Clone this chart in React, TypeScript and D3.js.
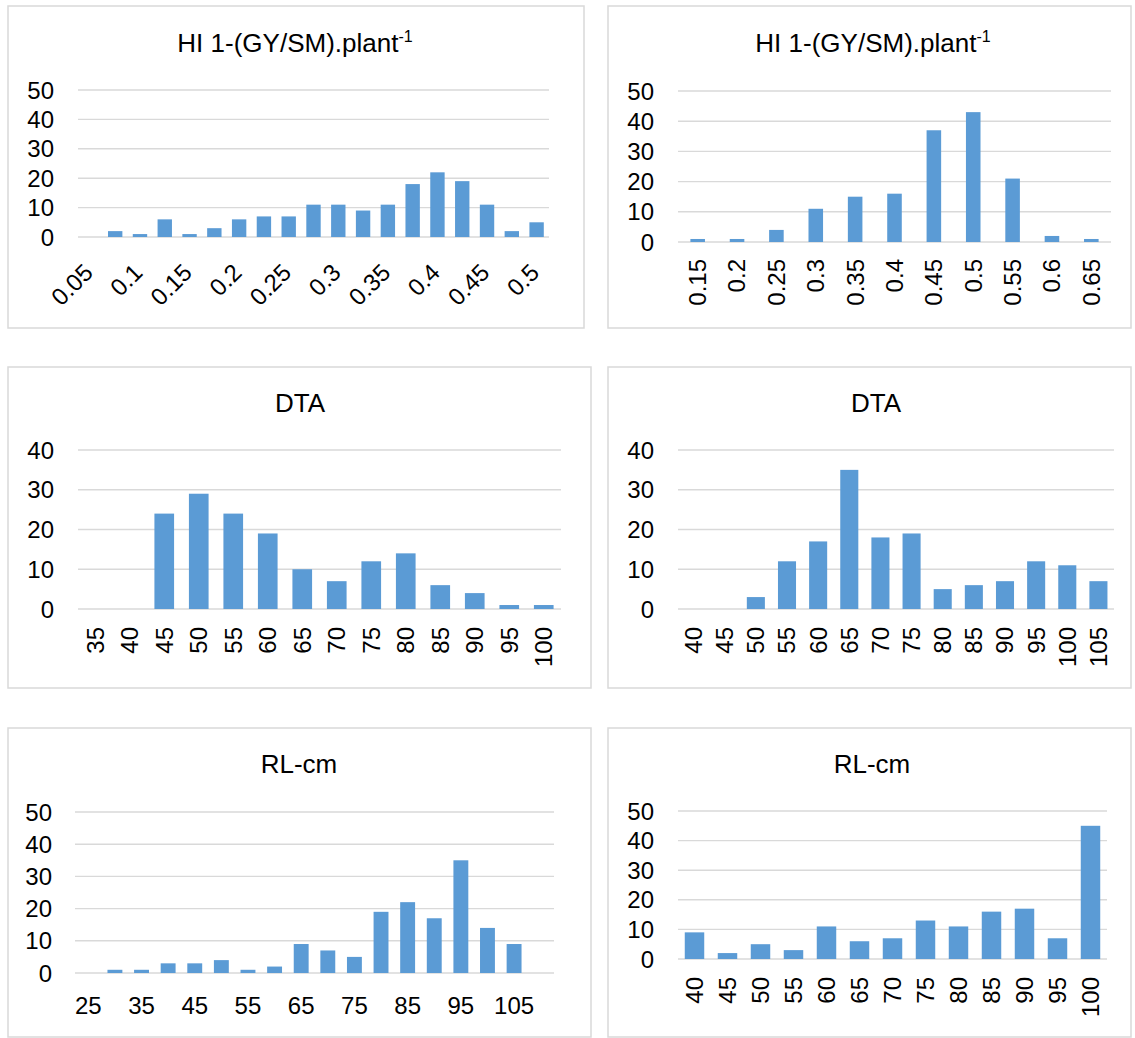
import React from 'react';
import * as d3 from 'd3';

// ---------- data ----------
const hiLeftCategories = ["0.05", "0.075", "0.1", "0.125", "0.15", "0.175", "0.2", "0.225", "0.25", "0.275", "0.3", "0.325", "0.35", "0.375", "0.4", "0.425", "0.45", "0.475", "0.5"];
const hiLeftValues = [0, 2, 1, 6, 1, 3, 6, 7, 7, 11, 11, 9, 11, 18, 22, 19, 11, 2, 5];

const hiRightCategories = ["0.15", "0.2", "0.25", "0.3", "0.35", "0.4", "0.45", "0.5", "0.55", "0.6", "0.65"];
const hiRightValues = [1, 1, 4, 11, 15, 16, 37, 43, 21, 2, 1];

const dtaLeftCategories = ["35", "40", "45", "50", "55", "60", "65", "70", "75", "80", "85", "90", "95", "100"];
const dtaLeftValues = [0, 0, 24, 29, 24, 19, 10, 7, 12, 14, 6, 4, 1, 1];

const dtaRightCategories = ["40", "45", "50", "55", "60", "65", "70", "75", "80", "85", "90", "95", "100", "105"];
const dtaRightValues = [0, 0, 3, 12, 17, 35, 18, 19, 5, 6, 7, 12, 11, 7];

const rlLeftCategories = ["25", "30", "35", "40", "45", "50", "55", "60", "65", "70", "75", "80", "85", "90", "95", "100", "105", "110"];
const rlLeftValues = [0, 1, 1, 3, 3, 4, 1, 2, 9, 7, 5, 19, 22, 17, 35, 14, 9, 0];

const rlRightCategories = ["40", "45", "50", "55", "60", "65", "70", "75", "80", "85", "90", "95", "100"];
const rlRightValues = [9, 2, 5, 3, 11, 6, 7, 13, 11, 16, 17, 7, 45];

const yTicks50 = [0, 10, 20, 30, 40, 50];
const yTicks40 = [0, 10, 20, 30, 40];

const hiTitle = "HI 1-(GY/SM).plant";
const hiTitleSup = "-1";
const dtaTitle = "DTA";
const rlTitle = "RL-cm";

// ---------- styles ----------
const FONT = "'Liberation Sans', Arial, Helvetica, sans-serif";
const BAR = "#5b9bd5";
const GRID = "#d9d9d9";
const BORDER = "#d9d9d9";

type Cfg = {
  bx0: number; by0: number; bx1: number; by1: number;
  gx0: number; gx1: number; yZero: number; yTop: number;
  barRatio: number; labelMode: 'diag' | 'vert' | 'horiz'; labelOffset: number;
  interval: number; titleX: number; titleY: number; yLabelX: number;
};

function Panel({ cfg, categories, values, ticks, title, sup }:
  { cfg: Cfg; categories: string[]; values: number[]; ticks: number[]; title: string; sup?: string }) {
  const p = 1 - cfg.barRatio;
  const x = d3.scaleBand<string>().domain(categories).range([cfg.gx0, cfg.gx1]).paddingInner(p).paddingOuter(p / 2);
  const y = d3.scaleLinear().domain([0, d3.max(ticks) as number]).range([cfg.yZero, cfg.yTop]);
  return (
    <g>
      <rect x={cfg.bx0} y={cfg.by0} width={cfg.bx1 - cfg.bx0} height={cfg.by1 - cfg.by0} fill="#fff" stroke={BORDER} strokeWidth={1.5} />
      <text x={cfg.titleX} y={cfg.titleY} textAnchor="middle" fontSize={26} fontFamily={FONT} fill="#000">
        {title}
        {sup ? <tspan fontSize={16} dy={-10}>{sup}</tspan> : null}
      </text>
      {ticks.map(t => (
        <g key={t}>
          <line x1={cfg.gx0} x2={cfg.gx1} y1={y(t)} y2={y(t)} stroke={GRID} strokeWidth={1.4} />
          <text x={cfg.yLabelX} y={y(t)} dy="0.36em" textAnchor="end" fontSize={24} fontFamily={FONT} fill="#000">{t}</text>
        </g>
      ))}
      {categories.map((c, i) => (
        <rect key={c} x={x(c)} y={y(values[i])} width={x.bandwidth()} height={cfg.yZero - y(values[i])} fill={BAR} />
      ))}
      {categories.map((c, i) => {
        if (i % cfg.interval !== 0) return null;
        const cx = (x(c) as number) + x.bandwidth() / 2;
        if (cfg.labelMode === 'diag') {
          return <text key={c} transform={`translate(${cx + 4},${cfg.yZero + cfg.labelOffset}) rotate(-45)`} textAnchor="end" fontSize={24} fontFamily={FONT} fill="#000">{c}</text>;
        }
        if (cfg.labelMode === 'vert') {
          return <text key={c} transform={`translate(${cx},${cfg.yZero + cfg.labelOffset}) rotate(-90)`} dy="0.35em" textAnchor="end" fontSize={24} fontFamily={FONT} fill="#000">{c}</text>;
        }
        return <text key={c} x={cx} y={cfg.yZero + cfg.labelOffset} textAnchor="middle" fontSize={24} fontFamily={FONT} fill="#000">{c}</text>;
      })}
    </g>
  );
}

const cfgHiLeft: Cfg = { bx0: 8, by0: 6, bx1: 584, by1: 328, gx0: 78, gx1: 549, yZero: 237, yTop: 90, barRatio: 0.58, labelMode: 'diag', labelOffset: 37, interval: 2, titleX: 295, titleY: 52, yLabelX: 54 };
const cfgHiRight: Cfg = { bx0: 608, by0: 6, bx1: 1131, by1: 328, gx0: 678, gx1: 1111, yZero: 242, yTop: 91, barRatio: 0.37, labelMode: 'vert', labelOffset: 17, interval: 1, titleX: 873, titleY: 52, yLabelX: 654 };
const cfgDtaLeft: Cfg = { bx0: 8, by0: 367, bx1: 591, by1: 688, gx0: 78, gx1: 561, yZero: 609, yTop: 450, barRatio: 0.57, labelMode: 'vert', labelOffset: 18, interval: 1, titleX: 300, titleY: 412, yLabelX: 54 };
const cfgDtaRight: Cfg = { bx0: 608, by0: 367, bx1: 1131, by1: 688, gx0: 678, gx1: 1114, yZero: 609, yTop: 450, barRatio: 0.58, labelMode: 'vert', labelOffset: 18, interval: 1, titleX: 876, titleY: 412, yLabelX: 654 };
const cfgRlLeft: Cfg = { bx0: 8, by0: 728, bx1: 591, by1: 1037, gx0: 75, gx1: 554, yZero: 973, yTop: 812, barRatio: 0.56, labelMode: 'horiz', labelOffset: 41, interval: 2, titleX: 299, titleY: 773, yLabelX: 52 };
const cfgRlRight: Cfg = { bx0: 608, by0: 728, bx1: 1131, by1: 1037, gx0: 678, gx1: 1107, yZero: 959, yTop: 811, barRatio: 0.59, labelMode: 'vert', labelOffset: 18, interval: 1, titleX: 872, titleY: 773, yLabelX: 654 };

export default function App() {
  return (
    <svg width={1135} height={1038} style={{ position: 'absolute', left: 0, top: 0, background: '#fff' }}>
      <rect x={0} y={0} width={1135} height={1038} fill="#fff" />
      <Panel cfg={cfgHiLeft} categories={hiLeftCategories} values={hiLeftValues} ticks={yTicks50} title={hiTitle} sup={hiTitleSup} />
      <Panel cfg={cfgHiRight} categories={hiRightCategories} values={hiRightValues} ticks={yTicks50} title={hiTitle} sup={hiTitleSup} />
      <Panel cfg={cfgDtaLeft} categories={dtaLeftCategories} values={dtaLeftValues} ticks={yTicks40} title={dtaTitle} />
      <Panel cfg={cfgDtaRight} categories={dtaRightCategories} values={dtaRightValues} ticks={yTicks40} title={dtaTitle} />
      <Panel cfg={cfgRlLeft} categories={rlLeftCategories} values={rlLeftValues} ticks={yTicks50} title={rlTitle} />
      <Panel cfg={cfgRlRight} categories={rlRightCategories} values={rlRightValues} ticks={yTicks50} title={rlTitle} />
    </svg>
  );
}
